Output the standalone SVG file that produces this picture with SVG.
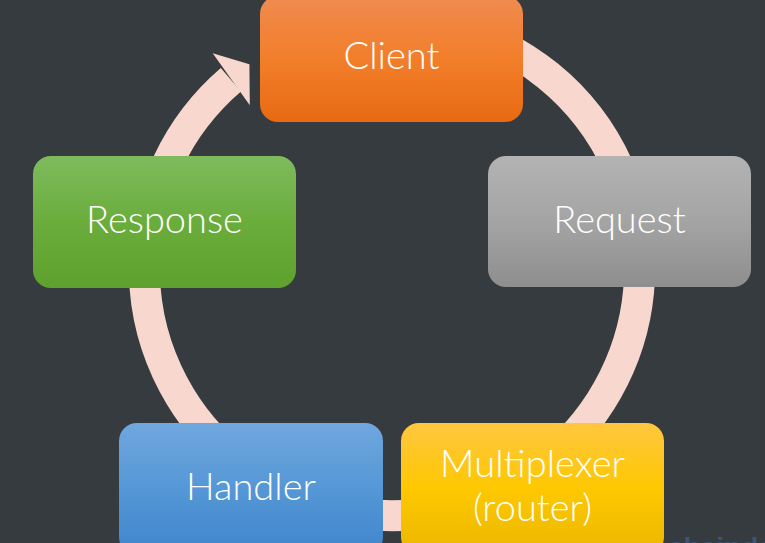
<svg xmlns="http://www.w3.org/2000/svg" width="765" height="543" viewBox="0 0 765 543">
<defs>
<linearGradient id="gClient" x1="0" y1="0" x2="0" y2="1"><stop offset="0" stop-color="#f08b50"/><stop offset="0.5" stop-color="#f27e2a"/><stop offset="1" stop-color="#e86a12"/></linearGradient>
<linearGradient id="gRequest" x1="0" y1="0" x2="0" y2="1"><stop offset="0" stop-color="#b2b3b2"/><stop offset="0.5" stop-color="#a4a4a4"/><stop offset="1" stop-color="#8e8e8e"/></linearGradient>
<linearGradient id="gResponse" x1="0" y1="0" x2="0" y2="1"><stop offset="0" stop-color="#7fbb5e"/><stop offset="0.5" stop-color="#6aad3c"/><stop offset="1" stop-color="#5fa12d"/></linearGradient>
<linearGradient id="gHandler" x1="0" y1="0" x2="0" y2="1"><stop offset="0" stop-color="#70a7de"/><stop offset="0.5" stop-color="#5597d6"/><stop offset="1" stop-color="#3f86cb"/></linearGradient>
<linearGradient id="gMux" x1="0" y1="0" x2="0" y2="1"><stop offset="0" stop-color="#ffc640"/><stop offset="0.5" stop-color="#fec800"/><stop offset="1" stop-color="#ebb700"/></linearGradient>
</defs>
<style>
.box{stroke:none}
.lbl{fill:#ffffff;font-family:"Lato","Noto Sans",sans-serif;font-weight:300;font-size:38px;text-anchor:middle}
.ring{fill:none;stroke:#f8d8ce;stroke-width:31}
</style>
<rect width="765" height="543" fill="#363b40"/>
<g id="connectors">
<path class="ring" d="M456.1,28.7 A247.7,247.7 0 1 1 230.9,79.8"/>
<polygon points="212.7,53.3 249.4,64.2 249.8,105.2" fill="#f8d8ce"/>
</g>
<g id="client">
<rect class="box" x="260" y="-4" width="263" height="126" rx="18" fill="url(#gClient)"/>
<text class="lbl" x="391.5" y="69">Client</text>
</g>
<g id="request">
<rect class="box" x="488" y="156" width="263" height="131" rx="18" fill="url(#gRequest)"/>
<text class="lbl" x="619.5" y="233">Request</text>
</g>
<g id="response">
<rect class="box" x="33" y="156" width="263" height="132" rx="18" fill="url(#gResponse)"/>
<text class="lbl" x="164.5" y="233">Response</text>
</g>
<g id="handler">
<rect class="box" x="119" y="423" width="264" height="132" rx="18" fill="url(#gHandler)"/>
<text class="lbl" x="251" y="500">Handler</text>
</g>
<g id="multiplexer">
<rect class="box" x="401" y="423" width="263" height="132" rx="18" fill="url(#gMux)"/>
<text class="lbl" x="532.5" y="477">Multiplexer</text>
<text class="lbl" x="532.5" y="521">(router)</text>
</g>
<text x="668" y="557" font-family="'Liberation Sans',sans-serif" font-weight="bold" font-size="28" fill="#3a5577">chaindesk</text>
</svg>
